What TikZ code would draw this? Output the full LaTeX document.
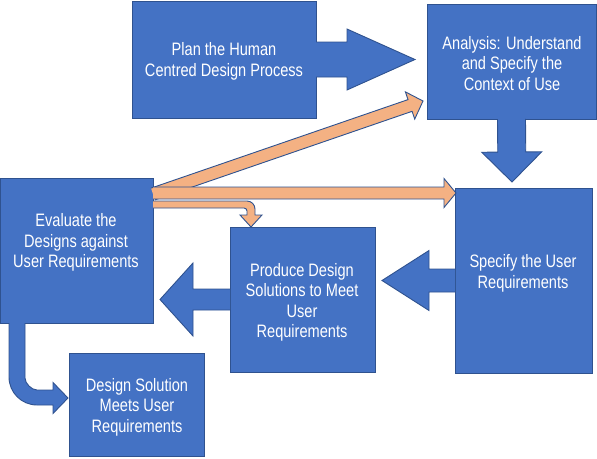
\documentclass[tikz,border=0pt]{standalone}
\usepackage{fontspec}
\setmainfont{Liberation Sans}[FakeStretch=0.81]
\usetikzlibrary{calc}
\definecolor{boxblue}{HTML}{4472C4}
\definecolor{edgeblue}{HTML}{2F528F}
\definecolor{peach}{HTML}{F4B183}
\tikzset{
  box/.style={draw=edgeblue, fill=boxblue, line width=0.9pt, inner sep=0pt, outer sep=0pt},
  txt/.style={text=white, align=center, inner sep=0pt, font=\fontsize{18}{20.5}\selectfont},
  outl/.style={draw=edgeblue, line width=0.9pt, line join=miter},
}
% #1 fill colour, #2 tail, #3 tip, #4 shaft half width, #5 head half width, #6 head length
\newcommand\bkarrow[6]{%
  \coordinate (bkC) at ($(#3)!#6pt!(#2)$);
  \coordinate (bk1) at ($(#2)!#4pt!90:(#3)$);
  \coordinate (bk2) at ($(bkC)!#4pt!90:(#3)$);
  \coordinate (bk3) at ($(bkC)!#5pt!90:(#3)$);
  \coordinate (bk5) at ($(bkC)!#5pt!-90:(#3)$);
  \coordinate (bk6) at ($(bkC)!#4pt!-90:(#3)$);
  \coordinate (bk7) at ($(#2)!#4pt!-90:(#3)$);
  \fill[#1] (bk1) -- (bk2) -- (bk3) -- (#3) -- (bk5) -- (bk6) -- (bk7) -- cycle;
  \draw[outl] (bk1) -- (bk2) -- (bk3) -- (#3) -- (bk5) -- (bk6) -- (bk7);
}
\begin{document}
\begin{tikzpicture}[x=1pt,y=-1pt]
\useasboundingbox (0,0) rectangle (597,458);
% boxes
\node[box, minimum width=184pt, minimum height=117pt] (plan) at (224,59.5) {};
\node[box, minimum width=169pt, minimum height=115pt] (analysis) at (511.5,61.5) {};
\node[box, minimum width=137pt, minimum height=185pt] (specify) at (523.5,280.5) {};
\node[box, minimum width=145pt, minimum height=145pt] (produce) at (302.5,299.5) {};
\node[box, minimum width=152.5pt, minimum height=145pt] (evaluate) at (76.75,250.5) {};
\node[box, minimum width=135pt, minimum height=103pt] (design) at (136.5,404.5) {};
% blue block arrows
\coordinate (pa) at ($(plan.east)+(99,0)$);
\bkarrow{boxblue}{plan.east}{pa}{17.5}{30.5}{68}
\coordinate (as) at ($(analysis.south)+(0.5,63)$);
\bkarrow{boxblue}{analysis.south}{as}{14}{30}{30}
\coordinate (sp) at ($(specify.west)+(-73,0)$);
\bkarrow{boxblue}{specify.west}{sp}{11.5}{30}{47}
\coordinate (pe) at ($(produce.west)+(-70,0)$);
\bkarrow{boxblue}{produce.west}{pe}{10.5}{36.5}{33}
% bent blue arrow evaluate -> design
\coordinate (bs) at ($(evaluate.south west)+(16.5,0)$);
\coordinate (bt) at ($(design.west)+(-1,-6.5)$);
\coordinate (bk) at (bs |- bt);
\fill[boxblue] ($(bs)+(-8,0)$) -- ($(bk)+(-8,-21)$) .. controls ($(bk)+(-8,-5.5)$) and ($(bk)+(4.5,7)$) .. ($(bk)+(20,7)$) -- ($(bt)+(-15,7)$) -- ($(bt)+(-15,15.5)$) -- (bt) -- ($(bt)+(-15,-15.5)$) -- ($(bt)+(-15,-8)$) -- ($(bk)+(20,-8)$) .. controls ($(bk)+(14.6,-8)$) and ($(bk)+(8,-14.6)$) .. ($(bk)+(8,-20)$) -- ($(bs)+(8,0)$) -- cycle;
\draw[outl] ($(bs)+(-8,0)$) -- ($(bk)+(-8,-21)$) .. controls ($(bk)+(-8,-5.5)$) and ($(bk)+(4.5,7)$) .. ($(bk)+(20,7)$) -- ($(bt)+(-15,7)$) -- ($(bt)+(-15,15.5)$) -- (bt) -- ($(bt)+(-15,-15.5)$) -- ($(bt)+(-15,-8)$) -- ($(bk)+(20,-8)$) .. controls ($(bk)+(14.6,-8)$) and ($(bk)+(8,-14.6)$) .. ($(bk)+(8,-20)$) -- ($(bs)+(8,0)$);
% orange arrows
\coordinate (ed) at ($(evaluate.north east)+(0,16)$);
\coordinate (ea) at ($(analysis.south west)+(-4,-18)$);
\bkarrow{peach}{ed}{ea}{6.2}{14.4}{13.7}
\coordinate (eh) at ($(evaluate.north east)+(0,15)$);
\coordinate (es) at ($(specify.north west)+(1,5)$);
\bkarrow{peach}{eh}{es}{6}{14.5}{12}
\coordinate (ot) at ($(produce.north west)+(21,0)$);
\coordinate (eo) at ($(evaluate.north east)+(0,23)$);
\coordinate (oc) at (ot |- eo);
\fill[peach] (eo) -- ($(oc)+(-4,0)$) .. controls ($(oc)+(0.4,0)$) and ($(oc)+(4,3.6)$) .. ($(oc)+(4,8)$) -- ($(ot)+(4,-12)$) -- ($(ot)+(11,-12)$) -- (ot) -- ($(ot)+(-11,-12)$) -- ($(ot)+(-4,-12)$) -- ($(oc)+(-4,10)$) .. controls ($(oc)+(-4,8.35)$) and ($(oc)+(-5.35,7)$) .. ($(oc)+(-7,7)$) -- ($(evaluate.north east)+(0,30)$) -- cycle;
\draw[outl] (eo) -- ($(oc)+(-4,0)$) .. controls ($(oc)+(0.4,0)$) and ($(oc)+(4,3.6)$) .. ($(oc)+(4,8)$) -- ($(ot)+(4,-12)$) -- ($(ot)+(11,-12)$) -- (ot) -- ($(ot)+(-11,-12)$) -- ($(ot)+(-4,-12)$) -- ($(oc)+(-4,10)$) .. controls ($(oc)+(-4,8.35)$) and ($(oc)+(-5.35,7)$) .. ($(oc)+(-7,7)$) -- ($(evaluate.north east)+(0,30)$);
% texts
\node[txt] (plantxt) at (224,61.5) {Plan the Human\\Centred Design Process};
\node[txt] (analysistxt) at (512,63.5) {Analysis: Understand\\and Specify the\\Context of Use};
\node[txt] (specifytxt) at (523,273.5) {Specify the User\\Requirements};
\node[txt] (producetxt) at (302,302.5) {Produce Design\\Solutions to Meet\\User\\Requirements};
\node[txt] (evaluatetxt) at (76,242.5) {Evaluate the\\Designs against\\User Requirements};
\node[txt] (designtxt) at (137,407) {Design Solution\\Meets User\\Requirements};
\end{tikzpicture}
\end{document}
